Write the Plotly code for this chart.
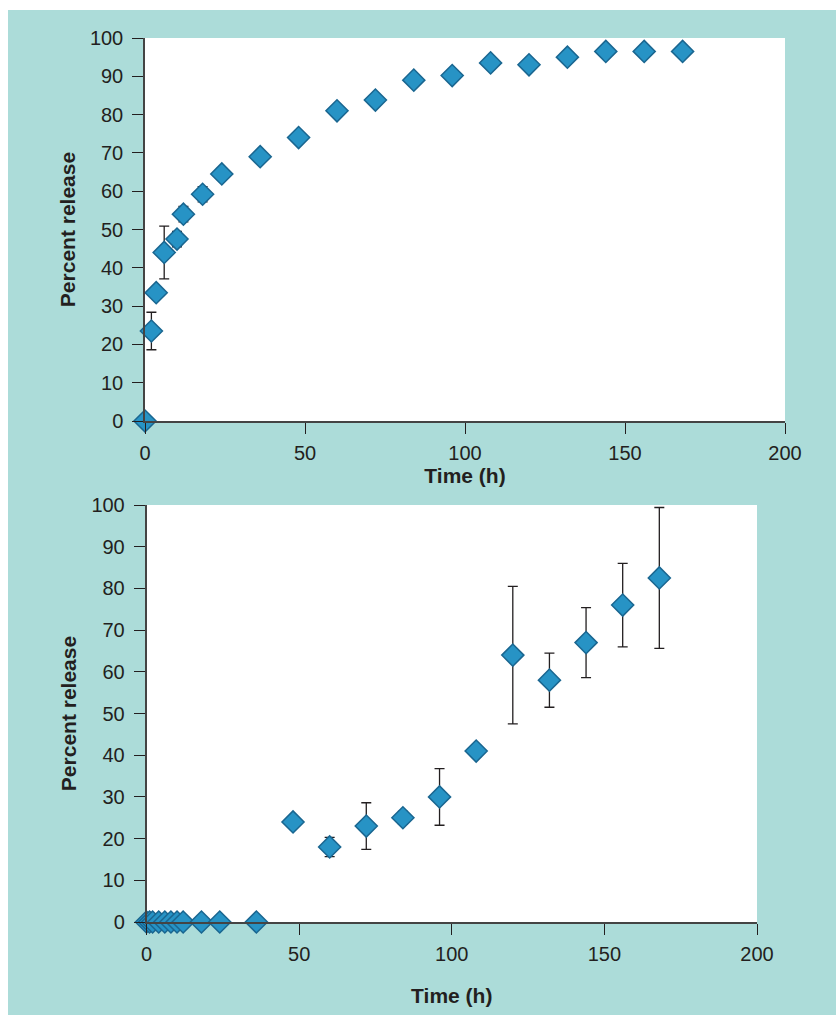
import plotly.graph_objects as go

# ---- data: top panel ----
time_top = [0, 2, 3.5, 6, 10, 12, 18, 24, 36, 48, 60, 72, 84, 96, 108, 120, 132, 144, 156, 168]
release_top = [0, 23.5, 33.5, 44, 47.5, 54, 59.2, 64.5, 69, 74, 81, 83.8, 89, 90.2, 93.5, 93, 95, 96.5, 96.5, 96.5]
err_top = [0, 4.9, 1.0, 6.9, 2.0, 2.0, 2.0, 1.5, 0.8, 0.8, 0.8, 0.8, 0.8, 0.8, 0.8, 0.8, 0.8, 0.5, 0.5, 0.5]

# ---- data: bottom panel ----
time_bot = [0, 1, 2, 4, 6, 8, 10, 12, 18, 24, 36, 48, 60, 72, 84, 96, 108, 120, 132, 144, 156, 168]
release_bot = [0, 0, 0, 0, 0, 0, 0, 0, 0, 0, 0, 24, 18, 23, 25, 30, 41, 64, 58, 67, 76, 82.5]
err_bot = [0, 0, 0, 0, 0, 0, 0, 0, 0, 0, 0, 1.5, 2.3, 5.6, 1.5, 6.8, 1.5, 16.5, 6.5, 8.4, 10, 16.9]

x_ticks = [0, 50, 100, 150, 200]
y_ticks = [0, 10, 20, 30, 40, 50, 60, 70, 80, 90, 100]

BG = "#acdcd9"
MARK = "#2793c5"
EDGE = "#1a6690"
INK = "#231f20"
FONT = "Liberation Sans, Arial, sans-serif"

fig = go.Figure()

def add_series(x, y, e, xa, ya):
    fig.add_trace(go.Scatter(
        x=x, y=y, mode="markers", xaxis=xa, yaxis=ya,
        marker=dict(symbol="diamond", size=17, color=MARK,
                    line=dict(color=EDGE, width=1.5)),
        error_y=dict(type="data", array=e, visible=True, color=INK,
                     thickness=1.3, width=5),
        cliponaxis=False, showlegend=False,
    ))

add_series(time_top, release_top, err_top, "x", "y")
add_series(time_bot, release_bot, err_bot, "x2", "y2")

OX, OY = 8, 10          # page offset of the figure
W, H = 836 - OX, 1015 - OY

def xdom(a, b):
    return [(a - OX) / W, (b - OX) / W]

def ydom(top, bottom):
    return [(H - (bottom - OY)) / H, (H - (top - OY)) / H]

axis_common = dict(
    showline=True, linecolor="#444444", linewidth=1.5,
    ticks="outside", ticklen=11, tickwidth=1.3, tickcolor=INK,
    showgrid=False, zeroline=False, automargin=False,
    tickfont=dict(family=FONT, size=20, color=INK),
)

title_font = dict(family=FONT, size=21, color=INK)

fig.update_layout(
    template="none",
    width=W, height=H,
    margin=dict(l=0, r=0, t=0, b=0, pad=0),
    paper_bgcolor=BG, plot_bgcolor="white",
    xaxis=dict(domain=xdom(145, 785), range=[0, 200], tickvals=x_ticks,
               anchor="y", ticklabelstandoff=2,
               title=dict(text="<b>Time (h)</b>", font=title_font, standoff=3),
               **axis_common),
    yaxis=dict(domain=ydom(38, 421), range=[0, 100], tickvals=y_ticks,
               anchor="x", ticklabelstandoff=5,
               title=dict(text="<b>Percent release</b>", font=title_font, standoff=9),
               **axis_common),
    xaxis2=dict(domain=xdom(146.5, 757), range=[0, 200], tickvals=x_ticks,
                anchor="y2", ticklabelstandoff=2,
                title=dict(text="<b>Time (h)</b>", font=title_font, standoff=25),
                **axis_common),
    yaxis2=dict(domain=ydom(505, 922), range=[0, 100], tickvals=y_ticks,
                anchor="x2", ticklabelstandoff=5,
                title=dict(text="<b>Percent release</b>", font=title_font, standoff=9),
                **axis_common),
)

fig.write_html("out.html", post_script="document.body.style.margin='10px 0 0 8px';")
